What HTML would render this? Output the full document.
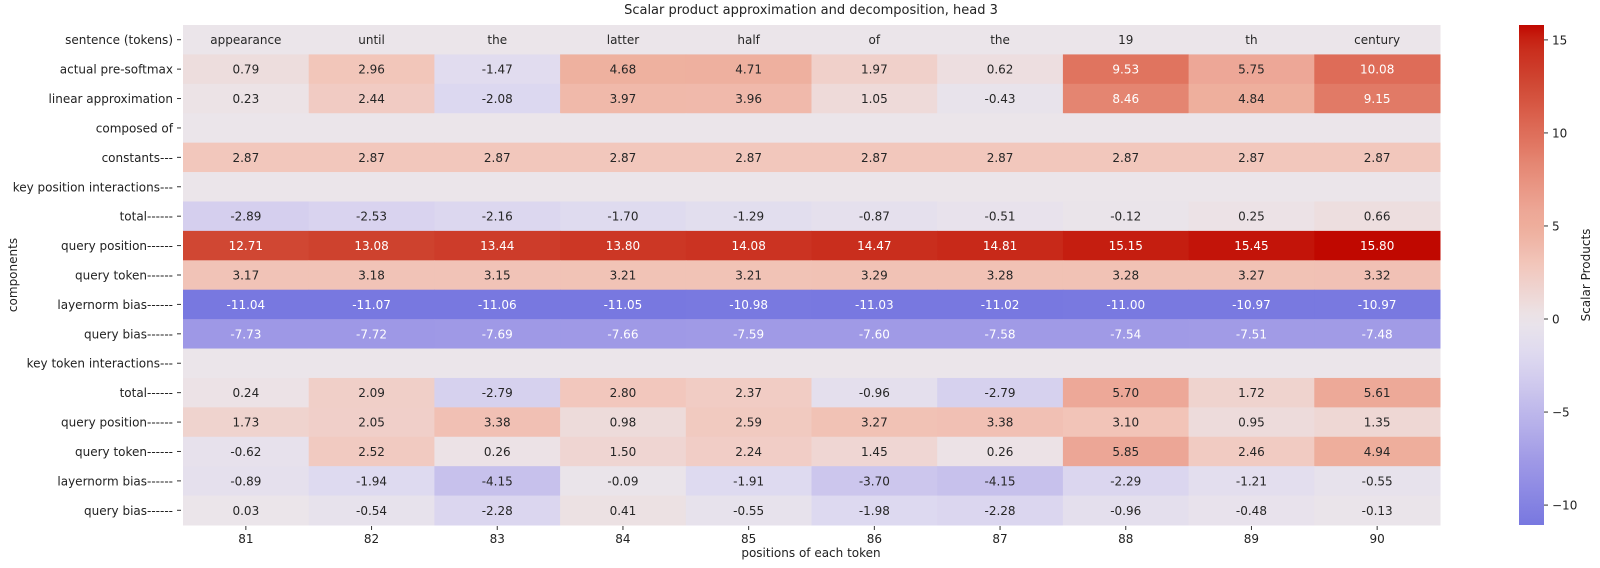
<!DOCTYPE html>
<html><head><meta charset="utf-8">
<style>
html,body{margin:0;padding:0;background:#fff;}
svg{display:block;font-family:"DejaVu Sans","Liberation Sans",sans-serif;}
</style></head>
<body>
<svg id="chart" width="1600" height="568" viewBox="0 0 1600 568">
<text x="811" y="14" text-anchor="middle" font-size="13" fill="#222">Scalar product approximation and decomposition, head 3</text>
<g id="cells"></g>
<g id="ylabels"></g>
<g id="xlabels"></g>
<text x="811" y="557" text-anchor="middle" font-size="12" fill="#222">positions of each token</text>
<text transform="translate(17,275) rotate(-90)" text-anchor="middle" font-size="12" fill="#222">components</text>
<defs><linearGradient id="cbgrad" x1="0" y1="1" x2="0" y2="0"></linearGradient></defs>
<rect id="cbar" x="1519" y="25" width="25" height="500" fill="url(#cbgrad)"></rect>
<g id="cbticks"></g>
<text transform="translate(1590,275) rotate(-90)" text-anchor="middle" font-size="12" fill="#222">Scalar Products</text>
</svg>
<script>
const positions = ["81","82","83","84","85","86","87","88","89","90"];
const tokens = ["appearance","until","the","latter","half","of","the","19","th","century"];
const actualPreSoftmax = [0.79,2.96,-1.47,4.68,4.71,1.97,0.62,9.53,5.75,10.08];
const linearApprox = [0.23,2.44,-2.08,3.97,3.96,1.05,-0.43,8.46,4.84,9.15];
const constants = [2.87,2.87,2.87,2.87,2.87,2.87,2.87,2.87,2.87,2.87];
const kpTotal = [-2.89,-2.53,-2.16,-1.70,-1.29,-0.87,-0.51,-0.12,0.25,0.66];
const kpQueryPos = [12.71,13.08,13.44,13.80,14.08,14.47,14.81,15.15,15.45,15.80];
const kpQueryTok = [3.17,3.18,3.15,3.21,3.21,3.29,3.28,3.28,3.27,3.32];
const kpLnBias = [-11.04,-11.07,-11.06,-11.05,-10.98,-11.03,-11.02,-11.00,-10.97,-10.97];
const kpQueryBias = [-7.73,-7.72,-7.69,-7.66,-7.59,-7.60,-7.58,-7.54,-7.51,-7.48];
const ktTotal = [0.24,2.09,-2.79,2.80,2.37,-0.96,-2.79,5.70,1.72,5.61];
const ktQueryPos = [1.73,2.05,3.38,0.98,2.59,3.27,3.38,3.10,0.95,1.35];
const ktQueryTok = [-0.62,2.52,0.26,1.50,2.24,1.45,0.26,5.85,2.46,4.94];
const ktLnBias = [-0.89,-1.94,-4.15,-0.09,-1.91,-3.70,-4.15,-2.29,-1.21,-0.55];
const ktQueryBias = [0.03,-0.54,-2.28,0.41,-0.55,-1.98,-2.28,-0.96,-0.48,-0.13];
const cbTicks = [15,10,5,0,-5,-10];

const rows = [tokens,actualPreSoftmax,linearApprox,null,constants,null,kpTotal,kpQueryPos,kpQueryTok,kpLnBias,kpQueryBias,null,ktTotal,ktQueryPos,ktQueryTok,ktLnBias,ktQueryBias];
const labels = ["sentence (tokens)","actual pre-softmax","linear approximation","composed of","constants---","key position interactions---","total------","query position------","query token------","layernorm bias------","query bias------","key token interactions---","total------","query position------","query token------","layernorm bias------","query bias------"];
</script>
<script>
const NS="http://www.w3.org/2000/svg";
const X0=183,X1=1440,Y0=25,Y1=525;
const allVals=[].concat(...rows.filter(r=>r&&typeof r[0]==="number"));
const vmin=Math.min(...allVals), vmax=Math.max(...allVals);
const vr=Math.max(vmax,-vmin);
const cw=(X1-X0)/positions.length;
const R=rows.length, rh=(Y1-Y0)/R;
const pos=[[0,235,229,234],[0.18,242,199,188],[0.31,238,174,156],[0.36,237,168,152],[0.54,228,132,112],[0.6,224,117,96],[0.64,222,108,88],[0.8,208,72,52],[0.94,200,40,24],[1,192,8,0]];
const neg=[[0,235,229,234],[0.12,222,218,240],[0.18,214,208,238],[0.27,198,192,236],[0.49,158,152,230],[0.7,120,120,224],[1,70,70,210]];
function interp(stops,t){for(let i=1;i<stops.length;i++){if(t<=stops[i][0]){const a=stops[i-1],b=stops[i];const f=(t-a[0])/(b[0]-a[0]);return [1,2,3].map(k=>Math.round(a[k]+(b[k]-a[k])*f));}}const l=stops[stops.length-1];return [l[1],l[2],l[3]];}
function color(v){const t=v/vr;const c=t>=0?interp(pos,t):interp(neg,-t);return `rgb(${c[0]},${c[1]},${c[2]})`;}
function xs(i){return X0+i*cw;}
function ys(j){return Y0+j*rh;}
const gC=document.getElementById('cells'), gY=document.getElementById('ylabels'), gX=document.getElementById('xlabels');
rows.forEach((row,j)=>{
  for(let i=0;i<positions.length;i++){
    const r=document.createElementNS(NS,'rect');
    const v=(row&&typeof row[i]==="number")?row[i]:0;
    r.setAttribute('x',xs(i));r.setAttribute('y',ys(j));r.setAttribute('width',cw+0.5);r.setAttribute('height',rh+0.5);
    r.setAttribute('fill',color(v));
    
    
    gC.appendChild(r);
    if(row){
      const t=document.createElementNS(NS,'text');
      t.setAttribute('x',xs(i)+cw/2);t.setAttribute('y',ys(j)+rh/2+4.5);
      t.setAttribute('text-anchor','middle');t.setAttribute('font-size','12');
      const num=typeof row[i]==="number";
      t.setAttribute('fill',num&&Math.abs(row[i])>7?'#fff':'#262626');
      t.textContent=num?row[i].toFixed(2):row[i];
      
      
      gC.appendChild(t);
    }
  }
  const yl=document.createElementNS(NS,'text');
  yl.setAttribute('x',X0-10);yl.setAttribute('y',ys(j)+rh/2+4.5);
  yl.setAttribute('text-anchor','end');yl.setAttribute('font-size','12');yl.setAttribute('fill','#222');
  yl.textContent=labels[j];
  
  
  gY.appendChild(yl);
  const tk=document.createElementNS(NS,'line');
  tk.setAttribute('x1',X0-6);tk.setAttribute('x2',X0-2);tk.setAttribute('y1',ys(j)+rh/2);tk.setAttribute('y2',ys(j)+rh/2);tk.setAttribute('stroke','#333');
  
  
  gY.appendChild(tk);
});
positions.forEach((p,i)=>{
  const tk=document.createElementNS(NS,'line');
  tk.setAttribute('x1',xs(i)+cw/2);tk.setAttribute('x2',xs(i)+cw/2);tk.setAttribute('y1',Y1+1);tk.setAttribute('y2',Y1+5);tk.setAttribute('stroke','#333');
  
  
  gX.appendChild(tk);
  const t=document.createElementNS(NS,'text');
  t.setAttribute('x',xs(i)+cw/2);t.setAttribute('y',Y1+18);t.setAttribute('text-anchor','middle');t.setAttribute('font-size','12');t.setAttribute('fill','#222');
  t.textContent=p;
  
  
  gX.appendChild(t);
});
const grad=document.getElementById('cbgrad');
for(let k=0;k<=40;k++){
  const v=vmin+(vmax-vmin)*k/40;
  const s=document.createElementNS(NS,'stop');
  s.setAttribute('offset',(k/40*100)+'%');s.setAttribute('stop-color',color(v));
  grad.appendChild(s);
}
const gT=document.getElementById('cbticks');
function cy(v){return Y1-(v-vmin)/(vmax-vmin)*(Y1-Y0);}
cbTicks.forEach(v=>{
  const l=document.createElementNS(NS,'line');
  l.setAttribute('x1',1544);l.setAttribute('x2',1548);l.setAttribute('y1',cy(v));l.setAttribute('y2',cy(v));l.setAttribute('stroke','#333');
  
  
  gT.appendChild(l);
  const t=document.createElementNS(NS,'text');
  t.setAttribute('x',1552);t.setAttribute('y',cy(v)+4.5);t.setAttribute('font-size','12');t.setAttribute('fill','#222');
  t.textContent=v<0?'\u2212'+(-v):String(v);
  
  
  gT.appendChild(t);
});
</script>
</body></html>
